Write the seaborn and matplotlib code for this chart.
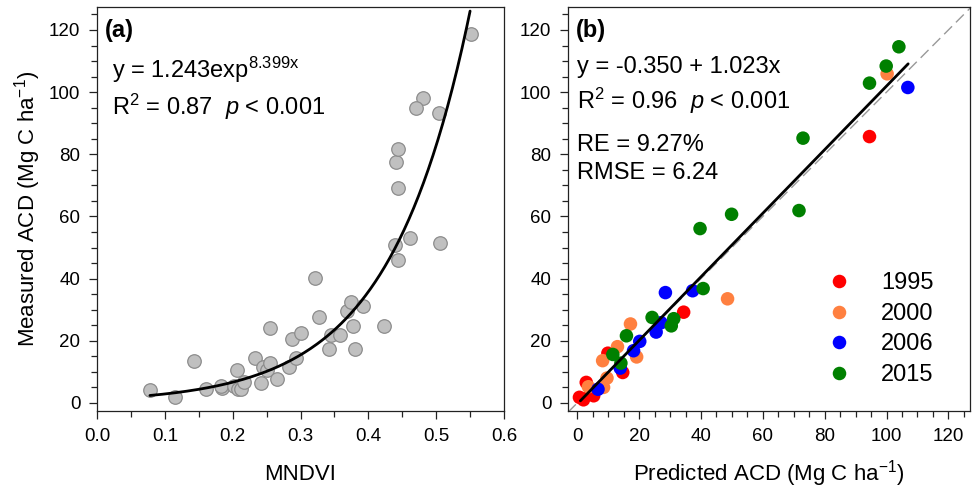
import numpy as np
import pandas as pd
import matplotlib
matplotlib.use("Agg")
import matplotlib.pyplot as plt
from matplotlib.ticker import MultipleLocator
import seaborn as sns

# ---------------- data ----------------
# Panel (a): MNDVI vs measured ACD
mndvi = [0.078, 0.115, 0.143, 0.161, 0.184, 0.183, 0.202, 0.207, 0.208, 0.213,
         0.216, 0.233, 0.242, 0.245, 0.250, 0.255, 0.255, 0.266, 0.283, 0.287,
         0.294, 0.300, 0.321, 0.327, 0.342, 0.345, 0.358, 0.368, 0.375, 0.378,
         0.380, 0.392, 0.423, 0.440, 0.443, 0.461, 0.506, 0.443, 0.441, 0.444,
         0.552, 0.480, 0.471, 0.504]
acd_a = [4.0, 2.0, 13.6, 4.6, 4.7, 5.5, 5.6, 10.6, 4.4, 4.4,
         6.7, 14.5, 6.5, 11.7, 10.6, 13.0, 24.1, 7.6, 11.4, 20.7,
         14.5, 22.4, 40.3, 27.6, 17.2, 22.0, 22.0, 29.6, 32.4, 24.6,
         17.5, 31.1, 24.6, 50.8, 46.0, 53.2, 51.6, 69.1, 77.6, 81.6,
         118.6, 98.0, 94.8, 93.2]
exp_a, exp_b = 1.243, 8.399          # fitted curve coefficients (from the text)
curve_range = [0.078, 0.550]

# Panel (b): predicted vs measured ACD by year
pred = [94.5, 34.4, 14.7, 9.9, 2.9, 5.3, 0.7, 2.0, 4.3,
        100.2, 48.6, 17.2, 19.2, 13.0, 8.2, 9.6, 8.5, 3.6,
        106.9, 37.3, 28.5, 27.1, 25.5, 20.2, 18.2, 13.9, 6.7,
        104.0, 99.9, 94.5, 73.0, 71.7, 49.9, 39.7, 40.7, 31.2, 30.4, 24.2, 15.9, 11.5, 14.1]
meas = [85.7, 29.2, 9.8, 16.0, 6.6, 2.3, 1.8, 1.0, 3.1,
        105.9, 33.5, 25.4, 14.8, 18.1, 13.6, 8.0, 5.0, 5.2,
        101.5, 36.1, 35.5, 25.8, 22.8, 19.8, 16.8, 11.2, 4.4,
        114.6, 108.4, 102.9, 85.2, 61.9, 60.7, 56.1, 36.8, 27.1, 24.8, 27.5, 21.6, 15.6, 12.8]
year = (["1995"] * 9 + ["2000"] * 9 + ["2006"] * 9 + ["2015"] * 14)
years = ["1995", "2000", "2006", "2015"]
year_colors = ["#ff0000", "#ff8040", "#0000ff", "#008000"]
lin_a, lin_b = -0.350, 1.023        # fitted line coefficients (from the text)
line_range = [1.0, 107.0]

# ---------------- style ----------------
sns.set_theme(style="ticks")
plt.rcParams["font.family"] = ["Liberation Sans", "DejaVu Sans"]
plt.rcParams["mathtext.fontset"] = "custom"
plt.rcParams["mathtext.rm"] = "Liberation Sans"
plt.rcParams["mathtext.it"] = "Liberation Sans:italic"
plt.rcParams["mathtext.bf"] = "Liberation Sans:bold"
for k in ["text.color", "axes.labelcolor", "xtick.color", "ytick.color",
          "xtick.labelcolor", "ytick.labelcolor"]:
    plt.rcParams[k] = "black"

fig = plt.figure(figsize=(9.76, 4.92), dpi=100)
ax1 = fig.add_axes([97 / 976, 81 / 492, 407 / 976, 404 / 492])
ax2 = fig.add_axes([568 / 976, 81 / 492, 402 / 976, 404 / 492])

def style_axes(ax):
    for s in ax.spines.values():
        s.set_visible(True)
        s.set_color("#222222")
        s.set_linewidth(0.9)
    ax.tick_params(which="major", direction="out", length=6, width=0.9,
                   labelsize=13.5, pad=6, color="#222222",
                   labelcolor="black", top=False, right=False)
    ax.tick_params(which="minor", direction="out", length=4, width=0.9,
                   color="#222222", top=False, right=False)
    ax.yaxis.set_major_locator(MultipleLocator(20))
    ax.yaxis.set_minor_locator(MultipleLocator(5))
    ax.set_ylim(-2.6, 127.4)

# ---------------- panel (a) ----------------
df_a = pd.DataFrame({"MNDVI": mndvi, "ACD": acd_a})
sns.scatterplot(data=df_a, x="MNDVI", y="ACD", ax=ax1, s=95,
                color="#c0c0c0", edgecolor="#8c8c8c", linewidth=0.9, zorder=2)
xc = np.linspace(curve_range[0], curve_range[1], 200)
df_c = pd.DataFrame({"x": xc, "y": exp_a * np.exp(exp_b * xc)})
sns.lineplot(data=df_c, x="x", y="y", ax=ax1, color="black", linewidth=2.0,
             zorder=3)
style_axes(ax1)
ax1.set_xlim(0, 0.6)
ax1.xaxis.set_major_locator(MultipleLocator(0.1))
ax1.xaxis.set_minor_locator(MultipleLocator(0.05))
ax1.xaxis.set_major_formatter(matplotlib.ticker.FormatStrFormatter("%.1f"))
ax1.set_xlabel("MNDVI", fontsize=16, labelpad=14)
ax1.set_ylabel("Measured ACD (Mg C ha$^{-1}$)", fontsize=16, labelpad=4)

ax1.text(0.02, 0.943, "(a)", transform=ax1.transAxes, fontsize=17,
         fontweight="bold", va="center", ha="left")
ax1.text(0.037, 0.845, "y = 1.243exp$^{\\mathrm{8.399x}}$", transform=ax1.transAxes,
         fontsize=17, va="center", ha="left")
ax1.text(0.037, 0.752, "R$^2$ = 0.87  $\\it{p}$ < 0.001", transform=ax1.transAxes,
         fontsize=17, va="center", ha="left")

# ---------------- panel (b) ----------------
df_b = pd.DataFrame({"Predicted": pred, "Measured": meas, "Year": year})
ax2.plot([-3, 127], [-3, 127], color="#999999", linewidth=1.0,
         dashes=(8, 4), zorder=1)
sns.scatterplot(data=df_b, x="Predicted", y="Measured", hue="Year",
                hue_order=years, palette=year_colors, ax=ax2, s=95,
                linewidth=0, zorder=2)
xl = np.array(line_range)
df_l = pd.DataFrame({"x": xl, "y": lin_a + lin_b * xl})
sns.lineplot(data=df_l, x="x", y="y", ax=ax2, color="black", linewidth=2.0,
             zorder=3)
style_axes(ax2)
ax2.set_xlim(-3, 127)
ax2.xaxis.set_major_locator(MultipleLocator(20))
ax2.xaxis.set_minor_locator(MultipleLocator(5))
ax2.set_xlabel("Predicted ACD (Mg C ha$^{-1}$)", fontsize=16, labelpad=10)
ax2.set_ylabel("")

handles, labels = ax2.get_legend_handles_labels()
ax2.legend(handles, labels, frameon=False, fontsize=17, loc="upper left",
           bbox_to_anchor=(0.591, 0.396), handlelength=1.0,
           handletextpad=1.3, labelspacing=0.36, borderpad=0.4,
           markerscale=1.0)

ax2.text(0.02, 0.943, "(b)", transform=ax2.transAxes, fontsize=17,
         fontweight="bold", va="center", ha="left")
ax2.text(0.022, 0.851, "y = -0.350 + 1.023x", transform=ax2.transAxes,
         fontsize=17, va="center", ha="left")
ax2.text(0.022, 0.767, "R$^2$ = 0.96  $\\it{p}$ < 0.001", transform=ax2.transAxes,
         fontsize=17, va="center", ha="left")
ax2.text(0.022, 0.658, "RE = 9.27%", transform=ax2.transAxes,
         fontsize=17, va="center", ha="left")
ax2.text(0.022, 0.589, "RMSE = 6.24", transform=ax2.transAxes,
         fontsize=17, va="center", ha="left")

fig.savefig("out.png", dpi=100)
